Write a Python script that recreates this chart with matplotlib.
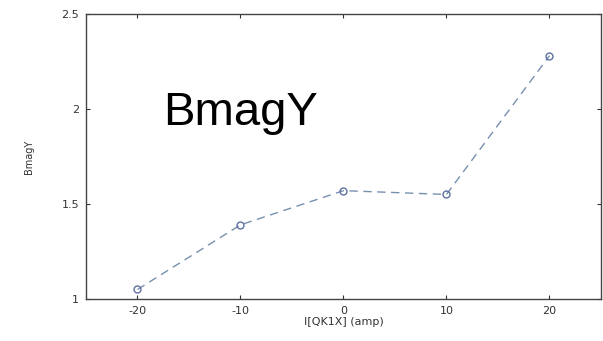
import matplotlib
matplotlib.use("Agg")
import matplotlib.pyplot as plt

# QK1X current scan vs BmagY
current = [-20, -10, 0, 10, 20]
bmag_y = [1.05, 1.39, 1.57, 1.55, 2.28]

x_ticks = [-20, -10, 0, 10, 20]
y_ticks = [1, 1.5, 2, 2.5]

fig = plt.figure(figsize=(6.03, 3.41), dpi=100)
ax = fig.add_axes([0.1426, 0.1232, 0.854, 0.836])

ax.plot(current, bmag_y, linestyle=(0, (6, 4)), color="#7890b0", linewidth=1.0,
        marker="o", markersize=5, markerfacecolor="none", markeredgecolor="#6070a0")

ax.set_xlim(-25, 25)
ax.set_ylim(1, 2.5)
ax.set_xticks(x_ticks)
ax.set_xticklabels([str(t) for t in x_ticks])
ax.set_yticks(y_ticks)
ax.set_yticklabels(["1", "1.5", "2", "2.5"])
ax.tick_params(direction="in", top=True, right=True, length=3, labelsize=8,
               colors="#333333", pad=5)
for s in ax.spines.values():
    s.set_color("#444444")
    s.set_linewidth(1.0)

ax.set_xlabel("I[QK1X] (amp)", fontsize=8, color="#333333", labelpad=1)
ax.set_ylabel("BmagY", fontsize=7, color="#333333", labelpad=20)

ax.text(-10, 1.98, "BmagY", fontsize=34, family="Liberation Sans",
        ha="center", va="center", color="black")

fig.savefig("out.png", dpi=100)
